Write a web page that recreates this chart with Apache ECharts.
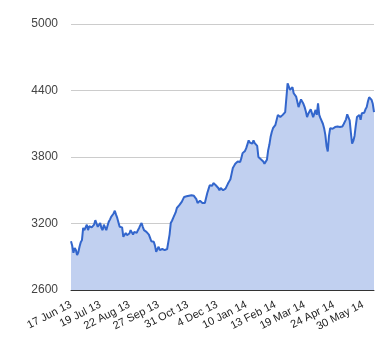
<!DOCTYPE html>
<html>
<head>
<meta charset="utf-8">
<script src="https://cdn.jsdelivr.net/npm/echarts@6/dist/echarts.min.js"></script>
<style>
html,body{margin:0;padding:0;background:#fff;}
#c{width:380px;height:360px;}
</style>
</head>
<body>
<div id="c"></div>
<script>
// Tick labels shown every 24 trading days
var tickLabels = ['17 Jun 13','19 Jul 13','22 Aug 13','27 Sep 13','31 Oct 13','4 Dec 13','10 Jan 14','13 Feb 14','19 Mar 14','24 Apr 14','30 May 14'];
var labelStep = 24;
var yTicks = [2600, 3200, 3800, 4400, 5000];

// Daily closing values (trading days from 17 Jun 13)
var values = [
3040,3000,2935,2980,2960,2915,2940,2990,3030,3050,
3160,3140,3125,3190,3140,3175,3190,3165,3170,3190,
3230,3200,3170,3185,3205,3160,3140,3190,3165,3140,
3180,3215,3235,3260,3275,3290,3315,3280,3250,3210,
3170,3175,3165,3080,3095,3115,3095,3080,3110,3140,
3120,3100,3125,3110,3115,3140,3160,3185,3205,3170,
3140,3135,3125,3120,3100,3070,3040,3025,3035,3000,
2945,2970,2990,2960,2955,2970,2980,2960,2965,2970,
2980,3100,3205,3225,3250,3260,3300,3340,3355,3365,
3370,3395,3410,3440,3455,3445,3440,3450,3445,3455,
3440,3450,3440,3420,3385,3395,3405,3395,3385,3390,
3385,3430,3475,3510,3545,3550,3540,3565,3555,3545,
3530,3520,3500,3520,3510,3500,3490,3515,3530,3560,
3580,3600,3650,3700,3720,3740,3745,3760,3750,3755,
3790,3835,3845,3855,3880,3880,3950,3930,3935,3920,
3950,3925,3940,3900,3800,3790,3780,3775,3760,3740,
3730,3775,3860,3910,3980,4025,4060,4065,4090,4105,
4180,4165,4160,4170,4180,4195,4205,4210,4465,4480,
4405,4420,4430,4375,4360,4345,4330,4250,4260,4320,
4310,4280,4250,4210,4160,4190,4205,4230,4225,4160,
4170,4225,4180,4285,4180,4150,4135,4100,4060,4000,
3900,3850,3990,4060,4070,4055,4045,4070,4060,4075,
4065,4070,4080,4075,4095,4100,4140,4185,4175,4130,
4020,3920,3945,3990,4080,4160,4150,4180,4135,4195,
4180,4200,4230,4250,4300,4340,4330,4315,4280,4205
];

var categories = values.map(function(v, i){ return i; });

var chart = echarts.init(document.getElementById('c'), null, {renderer:'canvas'});
chart.setOption({
  animation: false,
  backgroundColor: '#ffffff',
  grid: {left: 71, right: 6, top: 24, bottom: 70, containLabel: false},
  xAxis: {
    type: 'category',
    data: categories,
    boundaryGap: false,
    axisLine: {show: true, lineStyle: {color: '#333333', width: 1}},
    axisTick: {show: false},
    splitLine: {show: false},
    axisLabel: {
      interval: function(idx){ return idx % labelStep === 0; },
      rotate: 27,
      margin: 14,
      color: '#222222',
      fontFamily: 'Liberation Sans, Arial, sans-serif',
      fontSize: 11,
      formatter: function(v){ var k = Math.round(v / labelStep); return tickLabels[k] || ''; }
    }
  },
  yAxis: {
    type: 'value',
    min: yTicks[0],
    max: yTicks[yTicks.length-1],
    interval: 600,
    axisLine: {show: false},
    axisTick: {show: false},
    splitLine: {show: true, lineStyle: {color: '#cccccc', width: 1}},
    axisLabel: {
      margin: 13,
      color: '#444444',
      fontFamily: 'Liberation Sans, Arial, sans-serif',
      fontSize: 12,
      formatter: function(v){ return String(v); }
    }
  },
  series: [{
    type: 'line',
    data: values,
    symbol: 'none',
    lineStyle: {color: '#3366cc', width: 2},
    areaStyle: {color: '#c1d0f0', opacity: 1},
    z: 1
  }]
});
</script>
</body>
</html>
